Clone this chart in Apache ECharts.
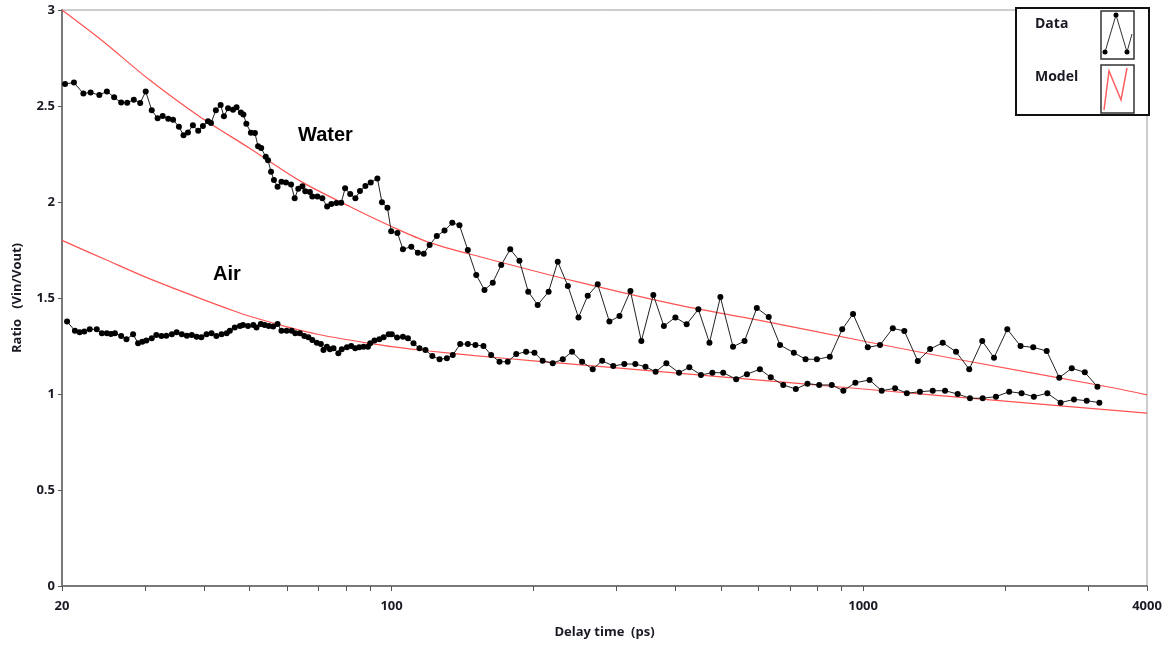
<!DOCTYPE html>
<html>
<head>
<meta charset="utf-8">
<script src="https://cdn.jsdelivr.net/npm/echarts@6/dist/echarts.min.js"></script>
<style>
html,body{margin:0;padding:0;background:#fff;}
#chart{width:1172px;height:649px;}
</style>
</head>
<body>
<div id="chart"></div>
<script>
// ---- data ----
const waterX = [20.3,21.2,22.2,23.0,24.0,24.9,25.8,26.7,27.5,28.4,
29.3,30.1,31.0,31.9,32.7,33.6,34.4,35.4,36.2,37.0,
37.9,38.9,39.8,40.8,41.4,42.4,43.4,44.1,45.0,46.1,
46.9,47.9,48.5,49.2,50.3,51.3,52.1,52.9,54.1,54.7,
55.5,56.3,57.3,58.4,59.7,61.2,62.3,63.4,64.7,65.6,
67.1,67.9,69.6,71.3,73.0,74.5,76.4,78.2,79.7,81.7,
83.8,85.7,88.0,90.3,93.3,95.4,98.0,99.8,102.9,105.7,
110.1,113.7,117.0,120.4,124.7,129.5,134.5,139.3,145.1,151.2,
157.4,163.9,170.8,178.5,186.7,194.9,204.1,215.3,225.1,236.5,
249.1,260.6,273.6,289.7,304.3,321.0,338.6,359.0,378.0,399.8,
422.4,447.3,472.2,498.1,529.8,560.5,595.0,630.7,666.5,713.0,
755.0,798.0,850.0,903,952,1023,1086,1156,1223,1306,
1387,1475,1574,1679,1789,1895,2022,2157,2295,2451,
2606,2770,2952,3140];
const waterY = [2.615,2.622,2.565,2.570,2.557,2.576,2.545,2.518,2.517,2.533,
2.516,2.576,2.478,2.436,2.448,2.433,2.429,2.392,2.348,2.362,
2.400,2.371,2.396,2.421,2.411,2.478,2.505,2.446,2.488,2.481,
2.493,2.466,2.456,2.408,2.361,2.359,2.290,2.281,2.236,2.217,
2.158,2.115,2.080,2.106,2.102,2.091,2.019,2.069,2.082,2.056,
2.052,2.028,2.028,2.019,1.976,1.990,1.995,1.996,2.071,2.042,
2.019,2.057,2.083,2.102,2.123,1.999,1.970,1.848,1.839,1.754,
1.767,1.736,1.731,1.776,1.823,1.851,1.892,1.879,1.750,1.620,
1.542,1.580,1.672,1.754,1.694,1.533,1.464,1.533,1.689,1.563,
1.399,1.512,1.571,1.377,1.406,1.536,1.276,1.516,1.354,1.399,
1.363,1.441,1.267,1.505,1.246,1.276,1.448,1.401,1.255,1.215,
1.181,1.181,1.194,1.337,1.417,1.243,1.255,1.342,1.328,1.172,
1.234,1.267,1.220,1.129,1.276,1.189,1.337,1.250,1.243,1.224,
1.085,1.134,1.113,1.038];

const airX = [20.5,21.3,21.8,22.3,22.9,23.7,24.3,24.9,25.4,25.9,
26.7,27.4,28.3,29.0,29.6,30.2,31.0,31.7,32.5,33.3,
34.2,35.0,35.9,36.8,37.7,38.6,39.5,40.5,41.5,42.5,
43.6,44.7,45.4,46.5,47.7,48.4,49.6,50.9,51.7,52.8,
53.8,54.9,56.1,57.3,58.4,59.9,61.4,62.5,63.9,65.3,
66.6,67.9,69.4,70.8,71.7,72.9,74.0,75.3,77.1,78.4,
80.4,82.1,83.7,85.4,87.2,89.1,90.1,92.0,94.2,96.2,
98.6,100.1,102.7,105.7,108.3,111.3,114.6,118.0,122.0,126.4,
131.0,134.8,139.8,145.1,150.6,156.6,162.6,169.4,176.3,183.8,
192.9,200.9,209.1,219.7,230.7,241.4,253.5,267.0,279.6,295.2,
311.6,328.8,345.5,363.0,382.6,407.0,428.0,453.0,479.0,505.0,
538.0,567.0,604.0,637.0,677.0,720.0,762.0,807.0,858.0,908.0,
963.0,1032,1095,1169,1238,1320,1405,1492,1587,1685,
1793,1913,2041,2168,2302,2459,2623,2800,2980,3170];
const airY = [1.377,1.330,1.321,1.325,1.337,1.337,1.316,1.316,1.313,1.316,
1.302,1.285,1.311,1.264,1.272,1.278,1.290,1.307,1.302,1.304,
1.311,1.321,1.311,1.304,1.307,1.298,1.295,1.311,1.316,1.302,
1.311,1.316,1.330,1.347,1.354,1.359,1.354,1.359,1.347,1.365,
1.359,1.354,1.351,1.365,1.330,1.330,1.330,1.316,1.316,1.302,
1.295,1.281,1.267,1.260,1.229,1.246,1.233,1.238,1.212,1.233,
1.243,1.250,1.238,1.243,1.246,1.246,1.264,1.278,1.285,1.295,
1.311,1.311,1.294,1.298,1.290,1.264,1.238,1.229,1.198,1.181,
1.186,1.203,1.260,1.260,1.255,1.250,1.203,1.168,1.168,1.208,
1.220,1.215,1.173,1.160,1.181,1.220,1.168,1.129,1.173,1.146,
1.156,1.156,1.142,1.116,1.160,1.111,1.139,1.099,1.111,1.111,
1.077,1.103,1.129,1.087,1.047,1.026,1.054,1.047,1.047,1.017,
1.059,1.073,1.017,1.030,1.004,1.012,1.017,1.017,1.000,0.978,
0.978,0.986,1.012,1.004,0.986,1.004,0.955,0.972,0.965,0.955];

const waterModelX = [20,24.2,30.7,39.2,50,63.9,81.7,100,120,154,247,404,600,1018,1615,3340,4000];
const waterModelY = [3.00,2.845,2.635,2.444,2.28,2.11,1.975,1.872,1.79,1.715,1.585,1.464,1.385,1.272,1.177,1.035,0.995];

const airModelX = [20,25,30,35,40,46,50,60,70,80,90,100,120,150,200,300,500,1000,2000,4000];
const airModelY = [1.80,1.695,1.61,1.545,1.49,1.435,1.405,1.35,1.31,1.284,1.264,1.247,1.224,1.20,1.173,1.136,1.089,1.026,0.963,0.90];

const xTickValues = [20,30,40,50,60,70,80,90,100,200,300,400,500,600,700,800,900,1000,2000,3000,4000];
const xLabelValues = [20,100,1000,4000];
const yTicks = {min:0, max:3, interval:0.5};

const pair = (xs, ys) => xs.map((x, i) => [x, ys[i]]);

const chart = echarts.init(document.getElementById('chart'));
const labelFont = {fontFamily:'"Open Sans", "DejaVu Sans", sans-serif', fontWeight:'bold', fontSize:13, color:'#1a1a24'};

chart.setOption({
  animation:false,
  backgroundColor:'#fff',
  grid:{left:62, right:25, top:10, bottom:63, show:true, borderColor:'#9a9a9a', borderWidth:1, backgroundColor:'transparent'},
  xAxis:{
    type:'log', logBase:10, min:20, max:4000,
    name:'Delay time  (ps)', nameLocation:'middle', nameGap:40,
    nameTextStyle:Object.assign({}, labelFont),
    axisLine:{show:true, lineStyle:{color:'#7a7a7a', width:2}},
    axisTick:{show:true, length:5, customValues:xTickValues, lineStyle:{color:'#555', width:1}},
    axisLabel:Object.assign({customValues:xLabelValues, margin:14, showMinLabel:true, showMaxLabel:true,
      formatter:(v) => String(Math.round(v))}, labelFont),
    splitLine:{show:false}, minorTick:{show:false}, minorSplitLine:{show:false}
  },
  yAxis:{
    type:'value', min:yTicks.min, max:yTicks.max, interval:yTicks.interval,
    name:'Ratio   (Vin/Vout)', nameLocation:'middle', nameGap:38,
    nameTextStyle:Object.assign({}, labelFont),
    axisLine:{show:true, lineStyle:{color:'#7a7a7a', width:2}},
    axisTick:{show:true, length:4, lineStyle:{color:'#555', width:1}},
    axisLabel:Object.assign({margin:7}, labelFont),
    splitLine:{show:false}
  },
  series:[
    {name:'Water model', type:'line', data:pair(waterModelX, waterModelY), smooth:0.3, showSymbol:false,
     lineStyle:{color:'#ff5252', width:1.2}, z:3},
    {name:'Air model', type:'line', data:pair(airModelX, airModelY), smooth:0.3, showSymbol:false,
     lineStyle:{color:'#ff5252', width:1.2}, z:3},
    {name:'Water', type:'line', data:pair(waterX, waterY), symbol:'circle', symbolSize:6,
     itemStyle:{color:'#000'}, lineStyle:{color:'#222', width:1}, z:4},
    {name:'Air', type:'line', data:pair(airX, airY), symbol:'circle', symbolSize:6,
     itemStyle:{color:'#000'}, lineStyle:{color:'#222', width:1}, z:4}
  ],
  graphic:[
    {type:'text', left:298, top:125, style:{text:'Water', font:'bold 20px "Liberation Sans", Arial, sans-serif', fill:'#000'}},
    {type:'text', left:213, top:264, style:{text:'Air', font:'bold 20px "Liberation Sans", Arial, sans-serif', fill:'#000'}},
    {type:'rect', shape:{x:1016, y:8, width:133, height:107}, style:{fill:'#fff', stroke:'#111', lineWidth:2}, z:100},
    {type:'text', x:1035, y:17, style:{text:'Data', font:'bold 14px "Open Sans", sans-serif', fill:'#1a1a24'}, z:101},
    {type:'text', x:1035, y:70, style:{text:'Model', font:'bold 14px "Open Sans", sans-serif', fill:'#1a1a24'}, z:101},
    {type:'rect', shape:{x:1101, y:11, width:33, height:48}, style:{fill:'#fff', stroke:'#333', lineWidth:1.5}, z:101},
    {type:'rect', shape:{x:1101, y:65, width:33, height:48}, style:{fill:'#fff', stroke:'#333', lineWidth:1.5}, z:101},
    {type:'polyline', shape:{points:[[1105,52],[1116,15],[1127,52],[1132,34]]}, style:{stroke:'#333', lineWidth:1, fill:null}, z:102},
    {type:'circle', shape:{cx:1105, cy:52, r:2.5}, style:{fill:'#000'}, z:103},
    {type:'circle', shape:{cx:1116, cy:15, r:2.5}, style:{fill:'#000'}, z:103},
    {type:'circle', shape:{cx:1127, cy:52, r:2.5}, style:{fill:'#000'}, z:103},
    {type:'polyline', shape:{points:[[1104,110],[1109,71],[1121,100],[1127,68]]}, style:{stroke:'#ff6060', lineWidth:1.5, fill:null}, z:102}
  ]
});
</script>
</body>
</html>
